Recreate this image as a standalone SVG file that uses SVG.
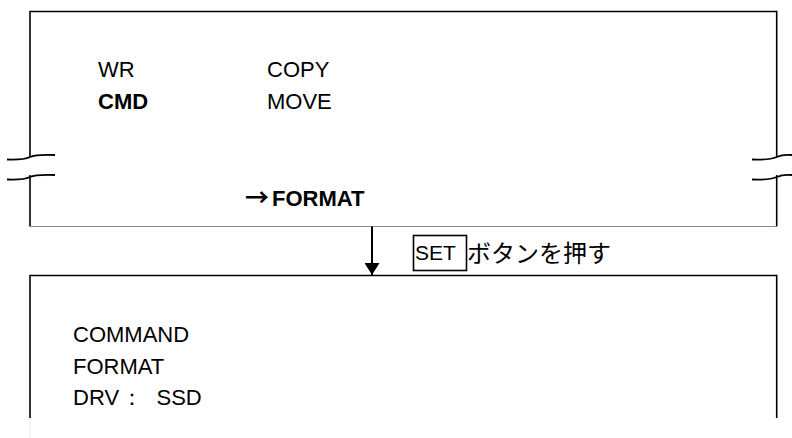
<svg xmlns="http://www.w3.org/2000/svg" width="792" height="438" viewBox="0 0 792 438">
<style>
.t{font-family:"Liberation Sans",Arial,sans-serif;font-size:22px;fill:#000}
.b{font-weight:bold}
.j{font-family:"Noto Sans CJK JP","Liberation Sans",sans-serif;font-size:24px;fill:#000}
.ln{stroke:#000;stroke-width:1.6;fill:none}
.brk{stroke:#000;stroke-width:1.8;fill:none}
</style>
<defs>
<marker id="ah" markerWidth="12" markerHeight="15" refX="12" refY="7.5" orient="auto" markerUnits="userSpaceOnUse" viewBox="0 0 12 15">
<path d="M0,0 L12,7.5 L0,15 Z" fill="#000"/>
</marker>
</defs>
<rect width="792" height="438" fill="#fff"/>
<g id="screen1">
<path class="ln" d="M30,157 V11.5 H776.7 V157"/>
<path class="ln" d="M30,175 V226.5"/>
<path class="ln" d="M776.7,175 V226.5"/>
<line x1="30" y1="226.5" x2="776.7" y2="226.5" stroke="#8a8a8a" stroke-width="1"/>
<path class="brk" d="M7,159.5 C20,160 26,159 30,157 C34,155 40,154.5 55,155"/>
<path class="brk" d="M7,179.5 C20,180 26,179 30,177 C34,175 40,174.5 55,175"/>
<path class="brk" d="M752,159.5 C765,160 772,159 776.7,157 C781,155 786,154.5 792,155"/>
<path class="brk" d="M752,179.5 C765,180 772,179 776.7,177 C781,175 786,174.5 792,175"/>
<text class="t" x="98" y="77">WR</text>
<text class="t" x="267" y="77">COPY</text>
<text class="t b" x="98" y="109">CMD</text>
<text class="t" x="267" y="109">MOVE</text>
<text class="j b" x="245" y="206">→</text>
<text class="t b" x="272" y="206">FORMAT</text>
</g>
<g id="connectors">
<line x1="372" y1="226.5" x2="372" y2="275" stroke="#000" stroke-width="2" marker-end="url(#ah)"/>
<g id="label">
<rect x="413.5" y="235.5" width="53" height="35" fill="none" stroke="#000" stroke-width="1.6"/>
<text class="t" x="415" y="260" style="font-size:21px">SET</text>
<text class="j" x="467" y="262">ボタンを押す</text>
</g>
</g>
<g id="screen2">
<path class="ln" d="M30,418 V275.5 H776.7 V418"/>
<line x1="30" y1="418" x2="30" y2="438" stroke="#e6e6e6" stroke-width="1"/>
<text class="t" x="73" y="341.5">COMMAND</text>
<text class="t" x="73" y="373.5">FORMAT</text>
<text class="t" x="73" y="405">DRV<tspan x="121">：</tspan><tspan x="156.5">SSD</tspan></text>
</g>
</svg>
